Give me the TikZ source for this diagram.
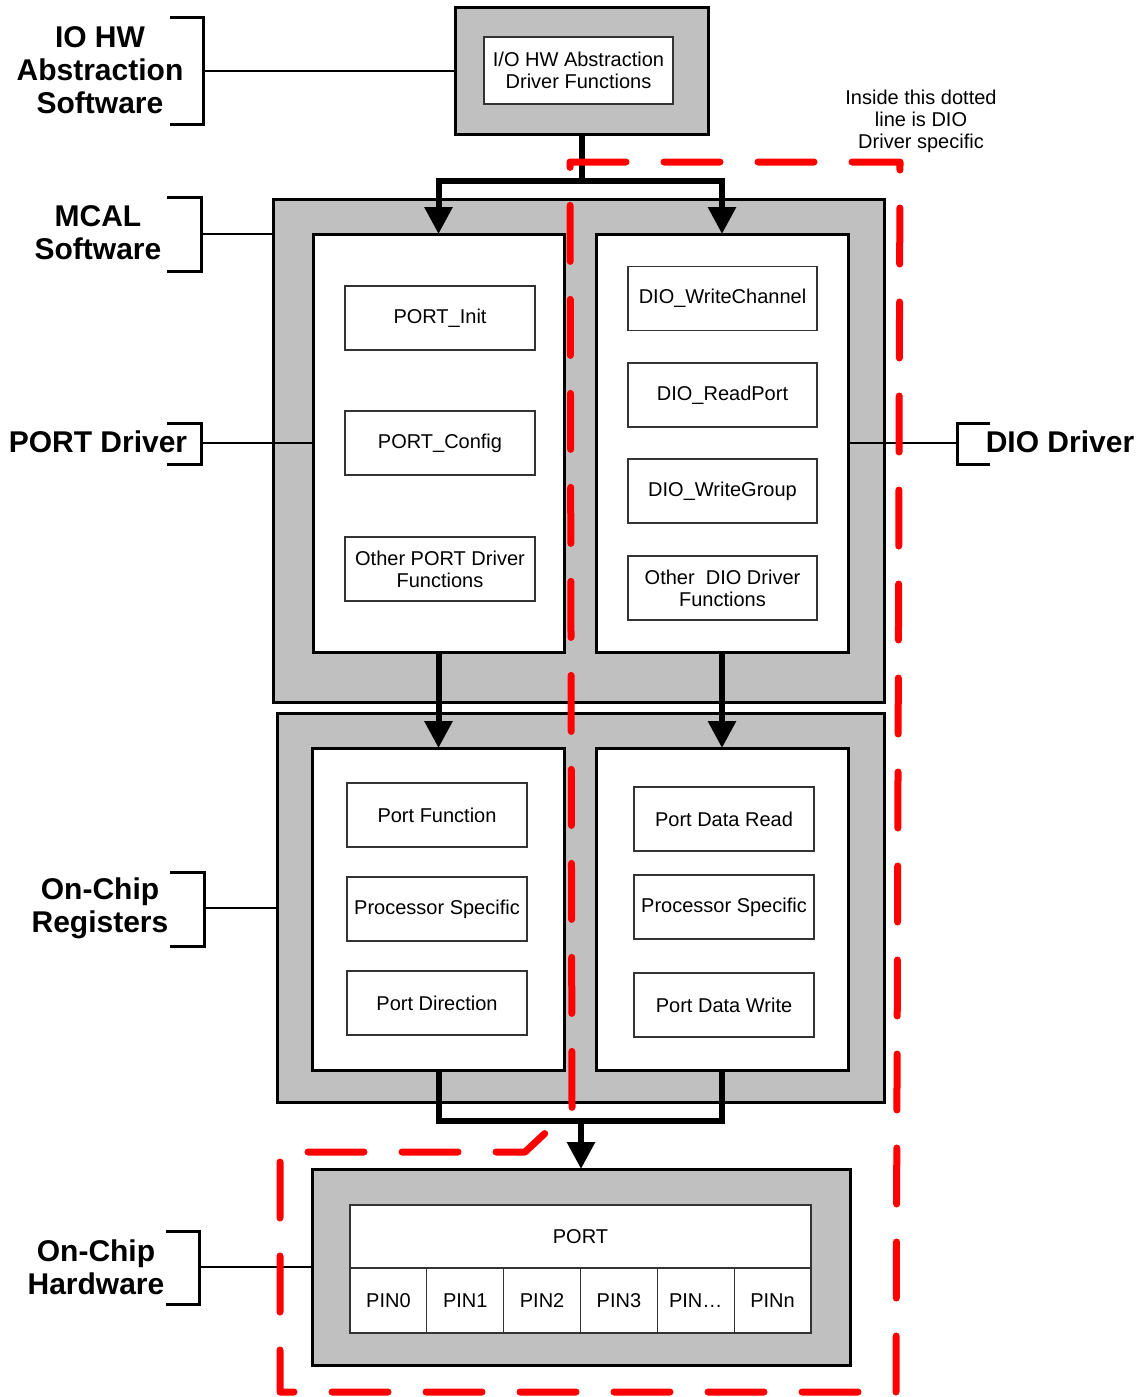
\documentclass[tikz,border=0pt]{standalone}
\usepackage{fontspec}
\setmainfont{Liberation Sans}
\usepackage{tikz}
\usetikzlibrary{arrows.meta}
\definecolor{tiergray}{HTML}{C0C0C0}
\definecolor{diored}{HTML}{FF0000}
\tikzset{
	tierbox/.style 2 args={draw=black,fill=tiergray,line width=1.5pt,minimum width=#1*0.5pt,minimum height=#2*0.5pt,inner sep=0pt,outer sep=0pt},
	drvbox/.style 2 args={draw=black,fill=white,line width=1.5pt,minimum width=#1*0.5pt,minimum height=#2*0.5pt,inner sep=0pt,outer sep=0pt},
	fnbox/.style 2 args={draw=black!80,fill=white,line width=0.6pt,minimum width=#1*0.5pt,minimum height=#2*0.5pt,inner sep=0pt,outer sep=0pt,align=center,font=\fontsize{10}{11}\selectfont},
	lbl/.style={align=center,font=\fontsize{15}{16.5}\selectfont\bfseries},
	notetext/.style={align=center,font=\fontsize{10}{11}\selectfont},
	brk/.style={line width=1.5pt},
	conn/.style={line width=1pt},
	bus/.style={line width=3pt},
	busarrow/.style={bus,-{Triangle[width=13.5pt,length=13.5pt]}},
	diozone/.style={diored,line width=3.5pt,line cap=round,line join=round,dash pattern=on 28pt off 19pt}
}

\begin{document}
\begin{tikzpicture}[x=0.5pt,y=-0.5pt]
	\useasboundingbox (0,0) rectangle (1141,1397);
	\node[tierbox={253}{127}] (iohw) at (581.5,70.5) {};
	\node[fnbox={189}{67}] (iohwfn) at (578.5,70.5) {I/O HW Abstraction\\Driver Functions};

	\begin{scope}
		\node[tierbox={611}{503}] (mcal) at (578.5,450.5) {};
		\node[drvbox={251}{418}] (portdrv) at (438.5,443) {};
		\node[drvbox={252}{418}] (diodrv) at (722,443) {};
		\foreach \n/\y/\t in {pinit/318/PORT\_Init,pcfg/443/PORT\_Config,pother/569/{Other PORT Driver\\Functions}}
			\node[fnbox={190}{64}] (\n) at (440,\y) {\t};
		\foreach \n/\y/\t in {dwch/298.5/DIO\_WriteChannel,drdp/395/DIO\_ReadPort,dwgr/491/DIO\_WriteGroup,dother/588/{Other~~DIO Driver\\Functions}}
			\node[fnbox={189}{64}] (\n) at (722.5,\y) {\t};
	\end{scope}

	\begin{scope}
		\node[tierbox={607}{389}] (regs) at (580.5,907.5) {};
		\node[drvbox={252}{322}] (portregs) at (438.5,909) {};
		\node[drvbox={252}{322}] (dioregs) at (722,909) {};
		\foreach \n/\y/\t in {pfunc/815/Port Function,pproc/909/Processor Specific,pdir/1003/Port Direction}
			\node[fnbox={180}{64}] (\n) at (437,\y) {\t};
		\foreach \n/\y/\t in {drd/819/Port Data Read,dproc/907/Processor Specific,dwr/1005/Port Data Write}
			\node[fnbox={180}{64}] (\n) at (724,\y) {\t};
	\end{scope}

	\begin{scope}
		\node[tierbox={538}{196}] (hw) at (581,1267) {};
		\node[fnbox={461}{63}] (port) at (580.5,1236.5) {PORT};
		\foreach \i/\t in {0/PIN0,1/PIN1,2/PIN2,3/PIN3,4/{PIN\ldots},5/PINn}
			\node[fnbox={76.83}{65},anchor=north west] (pin\i) at (350+76.83*\i,1268) {\t};
	\end{scope}

	\node[lbl] (liohw) at (100,70) {IO HW\\Abstraction\\Software};
	\node[lbl] (lmcal) at (98,233) {MCAL\\Software};
	\node[lbl] (lport) at (98,442) {PORT Driver};
	\node[lbl] (ldio) at (1060,442) {DIO Driver};
	\node[lbl] (lregs) at (100,908) {On-Chip\\Registers};
	\node[lbl] (lhw) at (96,1267) {On-Chip\\Hardware};
	\node[notetext] (dionote) at (921,121) {Inside this dotted\\line is DIO\\Driver specific};

	\draw[brk] (170,17) -| (203,124) -- (170,124);
	\draw[brk] (167,197) -| (201,271) -- (167,271);
	\draw[brk] (167,423) -| (201,464) -- (167,464);
	\draw[brk] (990,423) -| (957,464) -- (990,464);
	\draw[brk] (170,872) -| (204,946) -- (170,946);
	\draw[brk] (166,1231) -| (199,1304) -- (166,1304);
	\coordinate (biohw) at (203,70.5);
	\coordinate (bmcal) at (201,234);
	\coordinate (bport) at (201,443);
	\coordinate (bdio) at (957,443);
	\coordinate (bregs) at (204,907.5);
	\coordinate (bhw) at (199,1267);
	\draw[conn] (biohw) -- (iohw.west);
	\draw[conn] (bmcal) -- (bmcal -| mcal.west);
	\draw[conn] (bport) -- (portdrv.west);
	\draw[conn] (diodrv.east) -- (bdio);
	\draw[conn] (bregs) -- (regs.west);
	\draw[conn] (bhw) -- (hw.west);

	\coordinate (split) at (581.5,181);
	\coordinate (merge) at (581,1121);
	\draw[bus] (iohw.south) -- (split);
	\draw[busarrow] (split) -| (portdrv.north);
	\draw[busarrow] (split) -| (diodrv.north);
	\draw[busarrow] (portdrv.south) -- (portregs.north);
	\draw[busarrow] (diodrv.south) -- (dioregs.north);
	\draw[bus] (portregs.south) |- (merge) -| (dioregs.south);
	\draw[busarrow] (merge) -- (hw.north);

	\draw[diozone] (570,162) -- (900,162) -- (896,1392) -- (280,1392) -- (280,1152) -- (525,1152) -- (572,1108) -- cycle;
\end{tikzpicture}
\end{document}
